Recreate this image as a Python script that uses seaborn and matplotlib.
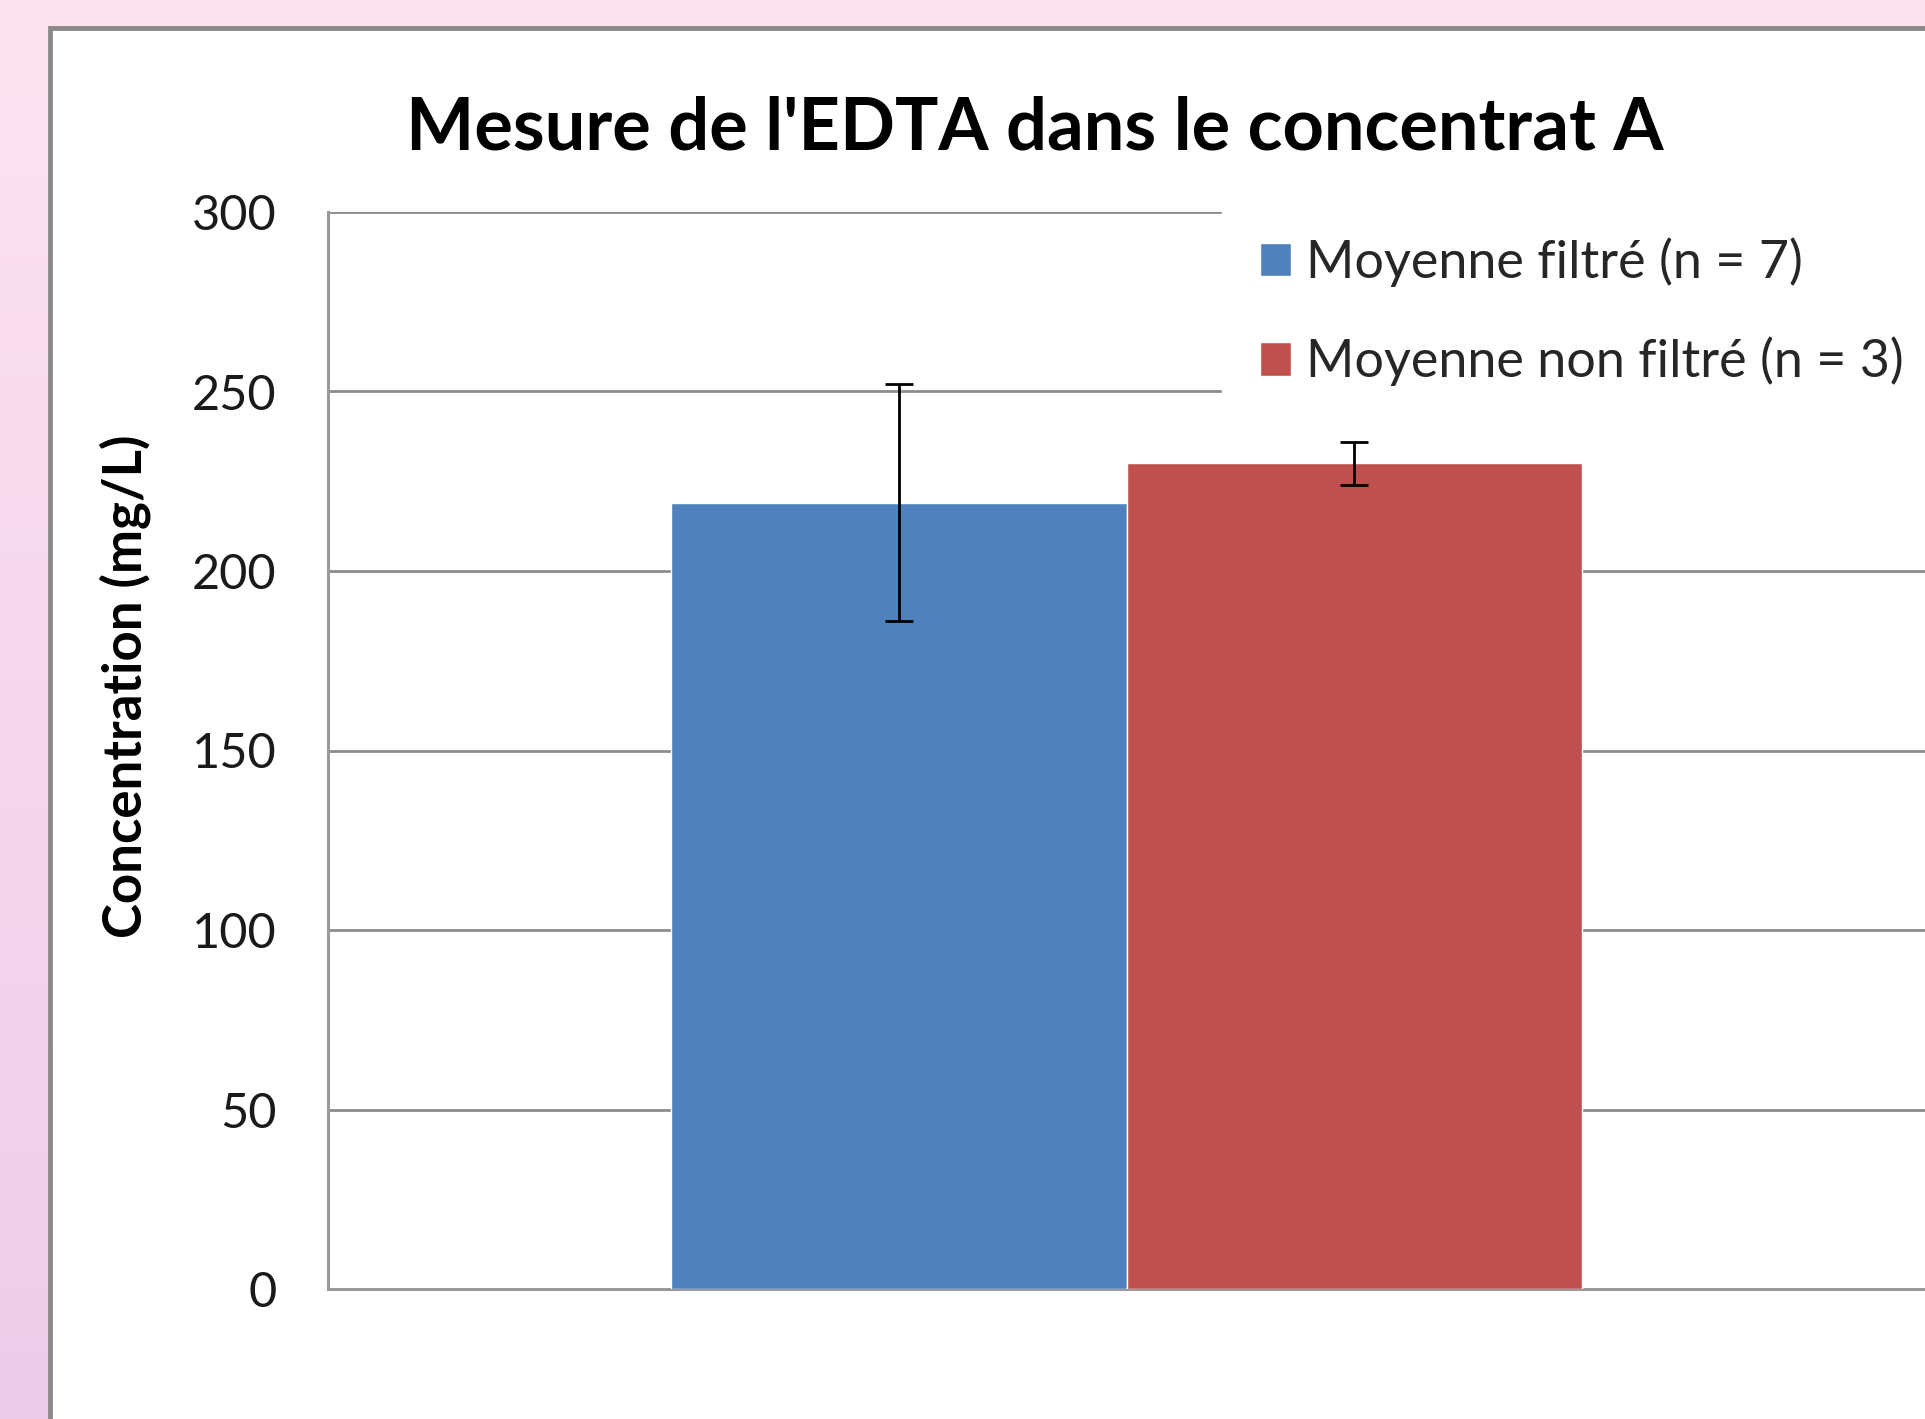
import numpy as np
import pandas as pd
import matplotlib
matplotlib.use("Agg")
import matplotlib.pyplot as plt
from matplotlib.patches import Rectangle
import seaborn as sns

# Data
categories = ["Concentrat A"]
series = ["Moyenne filtré (n = 7)", "Moyenne non filtré (n = 3)"]
means = [219, 230]
errors = [33, 6]
colors = ["#4F81BD", "#C0504D"]
yticks = [0, 50, 100, 150, 200, 250, 300]

df = pd.DataFrame({"cat": categories * len(series), "serie": series, "val": means})

sns.set_theme(style="white")
plt.rcParams["font.family"] = ["Lato", "DejaVu Sans"]

W, H = 1925, 1419
fig = plt.figure(figsize=(W / 100, H / 100), dpi=100)

# pink gradient background
bg = fig.add_axes([0, 0, 1, 1], zorder=-10)
top = np.array([253, 227, 240]) / 255
bot = np.array([237, 204, 233]) / 255
t = np.linspace(0, 1, 256)[:, None]
grad = top[None, :] * (1 - t) + bot[None, :] * t
bg.imshow(grad[:, None, :], aspect="auto", extent=[0, 1, 0, 1])
bg.set_axis_off()

# white chart area with grey border
fig.patches.append(Rectangle((50 / W, -0.1), 1.2, 1 - 28 / H + 0.1, transform=fig.transFigure,
                             facecolor="white", edgecolor="#8a8a8a", linewidth=3.5, zorder=-5))

ax = fig.add_axes([328 / W, 1 - 1289 / H, 1 - 328 / W, (1289 - 212) / H])
ax.patch.set_alpha(0)

sns.barplot(data=df, x="cat", y="val", hue="serie", palette=colors, width=0.57,
            errorbar=None, saturation=1, ax=ax, zorder=3)

# error bars at bar centres
for patch, m, e in zip(ax.patches, means, errors):
    xc = patch.get_x() + patch.get_width() / 2
    ax.errorbar(xc, m, yerr=e, fmt="none", ecolor="black", elinewidth=2,
                capsize=10, capthick=2, zorder=4)

ax.set_xlim(-0.5, 0.5)
ax.set_ylim(0, 300)
ax.set_yticks(yticks)
ax.set_xticks([])
ax.set_xlabel("")
ax.yaxis.grid(True, color="#8c8c8c", linewidth=2)
ax.set_axisbelow(True)
for s in ["top", "right"]:
    ax.spines[s].set_visible(False)
for s in ["left", "bottom"]:
    ax.spines[s].set_color("#9a9a9a")
    ax.spines[s].set_linewidth(2.2)
ax.tick_params(axis="y", length=13, width=2, color="#9a9a9a", pad=24,
               labelsize=35, labelcolor="#1a1a1a")

ax.set_ylabel("Concentration (mg/L)", fontsize=38, fontweight="bold", color="black")
ax.yaxis.set_label_coords(-0.111, 0.560)

fig.text(1035 / W, 1 - 129 / H, "Mesure de l'EDTA dans le concentrat A",
         ha="center", va="center", fontsize=52, fontweight="bold", color="black")

handles, labels = ax.get_legend_handles_labels()
leg = ax.legend(handles, labels, loc="upper left", bbox_to_anchor=(1222 / W, 1 - 200 / H),
                bbox_transform=fig.transFigure, frameon=True, fontsize=37.5,
                handlelength=0.6, handleheight=0.6, handletextpad=0.3,
                labelspacing=0.95, borderpad=0.72, borderaxespad=0)
leg.get_frame().set_facecolor("white")
leg.get_frame().set_edgecolor("white")
leg.get_frame().set_alpha(1)
leg.get_frame().set_boxstyle("square", pad=0)

fig.savefig("out.png", dpi=100)
